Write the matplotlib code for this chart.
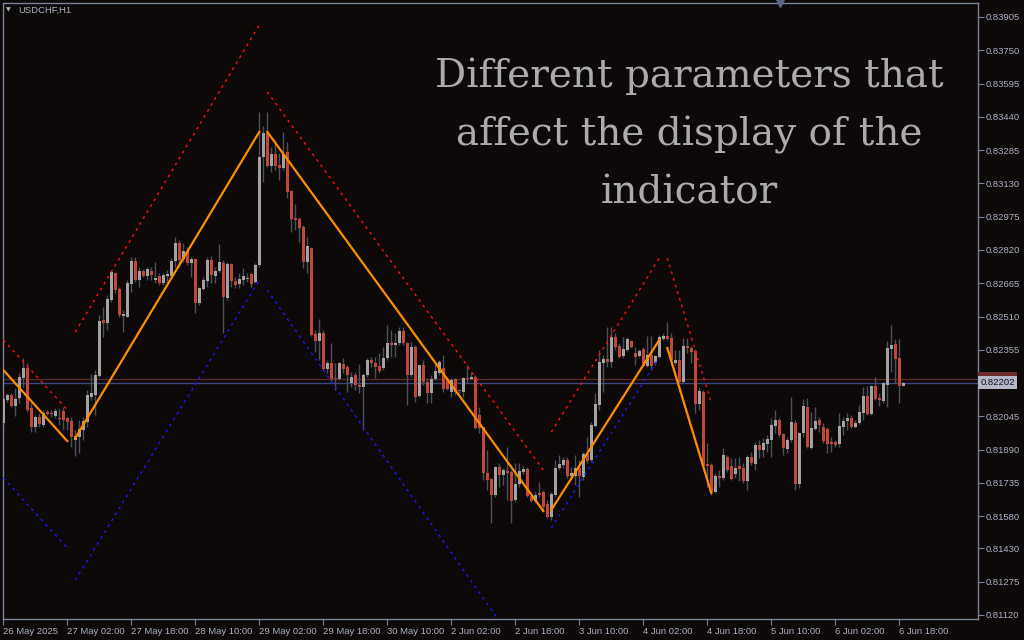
import numpy as np
import matplotlib
matplotlib.use('Agg')
import matplotlib.pyplot as plt
import matplotlib.transforms as mtransforms
from matplotlib.patches import Rectangle

# USDCHF H1 candles, prices in points (1 point = 0.00001)
opens = [82014, 82121, 82145, 82093, 82130, 82223, 82270, 82084, 81995, 82042, 82005, 82065, 82061, 82047, 82037, 82070,
         82037, 82023, 81935, 81948, 81981, 82019, 82135, 82145, 82233, 82494, 82480, 82587, 82713, 82638, 82512, 82508,
         82661, 82768, 82680, 82722, 82699, 82722, 82680, 82699, 82666, 82699, 82699, 82768, 82852, 82778, 82815, 82759,
         82778, 82573, 82638, 82675, 82773, 82699, 82722, 82759, 82596, 82755, 82675, 82661, 82680, 82685, 82708, 82671,
         82750, 83253, 83365, 83211, 83267, 83216, 83202, 83276, 83094, 82970, 82965, 82927, 82764, 82829, 82429, 82396,
         82433, 82265, 82293, 82223, 82219, 82289, 82275, 82200, 82238, 82191, 82181, 82238, 82307, 82293, 82279, 82270,
         82317, 82387, 82378, 82387, 82443, 82387, 82238, 82368, 82140, 82284, 82205, 82154, 82219, 82247, 82270, 82214,
         82159, 82219, 82165, 82159, 82223, 82219, 82228, 82051, 81995, 81781, 81753, 81679, 81809, 81772, 81791, 81786,
         81655, 81730, 81786, 81800, 81674, 81651, 81688, 81693, 81637, 81576, 81679, 81805, 81819, 81842, 81767, 81767,
         81805, 81763, 81870, 81842, 82000, 82098, 82293, 82312, 82298, 82415, 82373, 82326, 82354, 82396, 82340, 82326,
         82359, 82279, 82331, 82293, 82321, 82405, 82420, 82410, 82293, 82307, 82205, 82373, 82364, 82350, 82103, 82159,
         81823, 81819, 81693, 81767, 81758, 81856, 81814, 81777, 81814, 81805, 81744, 81856, 81823, 81912, 81888, 81916,
         81935, 82000, 82028, 81963, 81893, 81935, 82014, 81730, 81967, 82088, 81898, 81986, 82028, 81995, 81986, 81926,
         81926, 81916, 81995, 82023, 82037, 81995, 82014, 82061, 82140, 82056, 82186, 82130, 82116, 82191, 82359, 82382,
         82317, 82186]
highs = [82154, 82154, 82154, 82177, 82247, 82316, 82293, 82107, 82051, 82061, 82075, 82075, 82075, 82084, 82084, 82088,
         82042, 82042, 81981, 82028, 82042, 82168, 82242, 82261, 82517, 82554, 82610, 82727, 82717, 82647, 82540, 82680,
         82787, 82787, 82741, 82731, 82741, 82741, 82764, 82713, 82713, 82727, 82782, 82880, 82866, 82852, 82833, 82787,
         82782, 82647, 82694, 82787, 82792, 82741, 82847, 82773, 82764, 82759, 82694, 82713, 82736, 82713, 82717, 82759,
         83463, 83397, 83463, 83299, 83332, 83271, 83369, 83323, 83099, 83034, 82974, 82937, 82880, 82833, 82447, 82498,
         82447, 82307, 82387, 82293, 82298, 82317, 82284, 82252, 82252, 82289, 82247, 82317, 82321, 82321, 82340, 82368,
         82471, 82447, 82433, 82461, 82461, 82392, 82392, 82378, 82284, 82307, 82223, 82238, 82293, 82307, 82331, 82223,
         82223, 82223, 82172, 82228, 82284, 82252, 82238, 82088, 81995, 81888, 81758, 81814, 81828, 81805, 81902, 81795,
         81828, 81828, 81814, 81809, 81679, 81693, 81739, 81702, 81655, 81693, 81842, 81865, 81856, 81856, 81809, 81865,
         81842, 81879, 81949, 82019, 82154, 82354, 82331, 82461, 82461, 82433, 82387, 82415, 82415, 82401, 82368, 82359,
         82368, 82420, 82420, 82331, 82424, 82433, 82484, 82433, 82354, 82354, 82410, 82410, 82373, 82359, 82181, 82168,
         81921, 81828, 81781, 81795, 81898, 81865, 81851, 81851, 81856, 81828, 81865, 81879, 81926, 81935, 81944, 81958,
         82037, 82075, 82037, 81967, 81949, 82135, 82028, 81972, 82126, 82130, 82065, 82088, 82042, 82014, 81995, 81949,
         81935, 82061, 82042, 82061, 82051, 82028, 82098, 82181, 82186, 82191, 82228, 82154, 82205, 82396, 82471, 82405,
         82405, 82205]
lows = [81981, 82112, 82088, 82047, 82107, 82181, 82065, 81972, 81972, 81995, 81995, 82051, 82042, 82037, 82005, 81981,
        81981, 81902, 81860, 81874, 81935, 81995, 82121, 82051, 82228, 82415, 82447, 82577, 82619, 82508, 82438, 82508,
        82624, 82671, 82647, 82694, 82680, 82680, 82666, 82657, 82657, 82666, 82694, 82741, 82741, 82764, 82750, 82694,
        82526, 82564, 82633, 82647, 82666, 82666, 82717, 82433, 82587, 82647, 82643, 82643, 82657, 82671, 82647, 82666,
        82741, 83137, 83206, 83183, 83192, 83146, 83192, 83062, 82904, 82913, 82857, 82736, 82713, 82420, 82345, 82307,
        82261, 82247, 82205, 82168, 82214, 82247, 82159, 82181, 82168, 82154, 81981, 82228, 82275, 82223, 82247, 82261,
        82307, 82321, 82321, 82378, 82378, 82098, 82228, 82112, 82135, 82191, 82107, 82107, 82214, 82238, 82159, 82168,
        82135, 82145, 82154, 82135, 82200, 82214, 81986, 81967, 81749, 81702, 81548, 81669, 81716, 81725, 81655, 81548,
        81646, 81716, 81777, 81669, 81646, 81641, 81669, 81609, 81572, 81562, 81669, 81795, 81805, 81758, 81749, 81725,
        81669, 81749, 81828, 81833, 81995, 82075, 82159, 82275, 82275, 82354, 82317, 82317, 82350, 82364, 82284, 82321,
        82275, 82275, 82261, 82284, 82317, 82401, 82401, 82293, 82284, 82200, 82200, 82340, 82293, 82061, 82075, 81809,
        81716, 81679, 81688, 81716, 81749, 81786, 81749, 81758, 81744, 81735, 81702, 81819, 81795, 81851, 81856, 81879,
        81856, 81967, 81949, 81865, 81874, 81926, 81702, 81712, 81949, 81898, 81893, 81981, 81972, 81921, 81874, 81879,
        81902, 81902, 81958, 81981, 81991, 81991, 82009, 82028, 82051, 82051, 82121, 82093, 82107, 82088, 82252, 82200,
        82107, 82186]
closes = [82126, 82145, 82093, 82126, 82228, 82270, 82075, 81995, 82042, 82009, 82061, 82056, 82058, 82070, 82033, 82028,
          82019, 81949, 81953, 81986, 82023, 82145, 82154, 82238, 82489, 82480, 82591, 82717, 82633, 82517, 82522, 82666,
          82768, 82680, 82722, 82699, 82731, 82703, 82689, 82666, 82703, 82708, 82768, 82852, 82773, 82815, 82759, 82778,
          82573, 82643, 82680, 82773, 82703, 82722, 82764, 82601, 82755, 82675, 82657, 82685, 82699, 82689, 82661, 82750,
          83253, 83365, 83211, 83267, 83211, 83202, 83267, 83090, 82965, 82960, 82923, 82764, 82838, 82424, 82396, 82433,
          82265, 82293, 82219, 82219, 82293, 82265, 82238, 82228, 82191, 82181, 82238, 82307, 82293, 82275, 82256, 82317,
          82387, 82378, 82387, 82443, 82387, 82238, 82368, 82135, 82284, 82205, 82154, 82219, 82256, 82298, 82172, 82172,
          82214, 82159, 82163, 82223, 82219, 82228, 81991, 81991, 81781, 81749, 81679, 81809, 81772, 81795, 81781, 81651,
          81730, 81791, 81800, 81674, 81651, 81679, 81679, 81623, 81576, 81683, 81805, 81823, 81842, 81767, 81781, 81805,
          81767, 81870, 81837, 82005, 82103, 82298, 82312, 82298, 82415, 82368, 82321, 82359, 82405, 82368, 82321, 82350,
          82279, 82331, 82279, 82326, 82415, 82420, 82405, 82307, 82307, 82205, 82373, 82364, 82345, 82103, 82163, 81814,
          81814, 81693, 81767, 81758, 81865, 81795, 81753, 81805, 81800, 81744, 81856, 81828, 81912, 81888, 81921, 81939,
          82005, 82028, 81958, 81898, 81935, 82019, 81730, 81967, 82093, 81902, 81991, 82023, 82005, 81930, 81916, 81916,
          81912, 82000, 82023, 82037, 81995, 82014, 82065, 82140, 82056, 82186, 82126, 82121, 82200, 82364, 82378, 82312,
          82186, 82202]

# zigzag legs and the dotted channel around them: (start bar, end bar)
leg_bars = [(0, 16), (18, 64), (66, 135), (137, 164), (166, 177)]
zigzag = [(82261, 81930), (81944, 83370), (83370, 81604), (81609, 82401), (82364, 81688)]
upper_band = [(82401, 82075), (82438, 83868), (83556, 81795), (81972, 82782), (82782, 82107)]
lower_band = [(81758, 81432), (81282, 82680), (82633, 80799), (81525, 82321), (82354, 81679)]

bid = 82202
ask = 82219
price_ticks = [83905, 83750, 83595, 83440, 83285, 83130, 82975, 82820, 82665, 82510, 82355,
               82045, 81890, 81735, 81580, 81430, 81275, 81120]
time_ticks = [0, 16, 32, 48, 64, 80, 96, 112, 128, 144, 160, 176, 192, 208, 224]
time_labels = ['26 May 2025', '27 May 02:00', '27 May 18:00', '28 May 10:00', '29 May 02:00',
               '29 May 18:00', '30 May 10:00', '2 Jun 02:00', '2 Jun 18:00', '3 Jun 10:00',
               '4 Jun 02:00', '4 Jun 18:00', '5 Jun 10:00', '6 Jun 02:00', '6 Jun 18:00']
title_lines = ['Different parameters that', 'affect the display of the', 'indicator']

bg = '#0c0908'
frame = '#7c8296'
txt = '#aab0c4'
bull = '#a2a2a2'
bear = '#c0473a'
wick = '#4c505c'

pt = 1e-5
o = np.array(opens) * pt
h = np.array(highs) * pt
l = np.array(lows) * pt
c = np.array(closes) * pt
x = np.arange(len(o))

fig = plt.figure(figsize=(10.24, 6.4), dpi=100, facecolor=bg)
ax = fig.add_axes([2.5 / 1024, 21 / 640, 975 / 1024, 616.5 / 640])
ax.set_facecolor(bg)
ax.set_xlim(-0.2, 243.55)
ax.set_ylim(0.811013, 0.839724)

# bid / ask lines
ax.axhline(ask * pt, color='#5a2a2a', lw=1, zorder=1)
ax.axhline(bid * pt, color='#3d4680', lw=1, zorder=1)

# candles
up = c >= o
ax.vlines(x, l, h, color=wick, lw=1, zorder=2)
ax.bar(x, np.maximum(np.abs(c - o), 0.000025), bottom=np.minimum(o, c), width=0.72,
       color=np.where(up, bull, bear), linewidth=0, zorder=3)

# zigzag and channel
for (b0, b1), zz, hi, lo in zip(leg_bars, zigzag, upper_band, lower_band):
    ax.plot([b0, b1], [zz[0] * pt, zz[1] * pt], color='#ff8c00', lw=1.6, zorder=5)
    ax.plot([b0, b1], [hi[0] * pt, hi[1] * pt], color='#ff1010', lw=1, ls=(0, (2, 3)), zorder=4)
    ax.plot([b0, b1], [lo[0] * pt, lo[1] * pt], color='#1a1aff', lw=1, ls=(0, (2, 3)), zorder=4)

for s in ax.spines.values():
    s.set_color(frame)
    s.set_linewidth(1)

ax.yaxis.tick_right()
ax.set_yticks([p * pt for p in price_ticks])
ax.set_yticklabels(['%.5f' % (p * pt) for p in price_ticks])
ax.set_xticks(time_ticks)
ax.set_xticklabels(time_labels)
ax.tick_params(axis='both', direction='out', length=4, color=frame, labelcolor=txt,
               labelsize=6.8, pad=2)
for lab in ax.get_xticklabels():
    lab.set_horizontalalignment('left')
    lab.set_fontfamily('Liberation Sans')
for lab in ax.get_yticklabels():
    lab.set_fontfamily('Liberation Sans')

# price boxes on the right scale (ask box mostly hidden behind the bid box)
tr = mtransforms.blended_transform_factory(ax.transAxes, ax.transData)
ax.add_patch(Rectangle((1.001, ask * pt - 0.00028), 0.04, 0.00060, transform=tr,
                       facecolor='#6e2a2a', edgecolor='none', clip_on=False, zorder=6))
ax.text(1.003, bid * pt, '%.5f' % (bid * pt), transform=tr, ha='left', va='center',
        fontsize=6.8, family='Liberation Sans', color='#10101a', clip_on=False, zorder=7,
        bbox=dict(facecolor='#b4b8c6', edgecolor='none', pad=1.6))

# shift marker at top
ax.plot([194.2], [0.839724], marker='v', ms=6, color='#5c6280', clip_on=False, zorder=6)

# symbol label
fig.text(6 / 1024, 1 - 10 / 640, '\u25bc', fontsize=4.5, color=txt, va='center', ha='left')
fig.text(18 / 1024, 1 - 10 / 640, 'USDCHF,H1', fontsize=6.8, family='Liberation Sans',
         color=txt, va='center', ha='left')

# overlay caption
for i, line in enumerate(title_lines):
    fig.text(689 / 1024, 1 - (76 + 58.5 * i) / 640, line, fontsize=28, family='DejaVu Serif',
             color='#ababab', ha='center', va='center')

plt.savefig('out.png', dpi=100, facecolor=bg)
